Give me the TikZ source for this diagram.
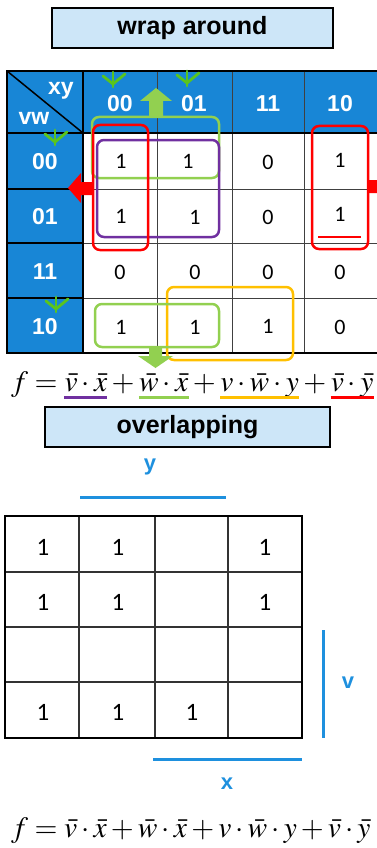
\documentclass[tikz,border=0pt]{standalone}
\usepackage{mathptmx}
\usepackage[no-math]{fontspec}
\setmainfont{Liberation Sans}
\newfontfamily\cellfont{Carlito}
\definecolor{hdrblue}{RGB}{24,134,214}
\definecolor{titlefill}{RGB}{205,230,248}
\definecolor{kgreen}{RGB}{146,208,80}
\definecolor{mgreen}{RGB}{90,196,30}
\definecolor{kpurple}{RGB}{112,48,160}
\definecolor{kyellow}{RGB}{255,192,0}
\definecolor{kred}{RGB}{255,0,0}
\definecolor{lblue}{RGB}{30,144,222}
\begin{document}
\begin{tikzpicture}[x=1pt,y=-1pt,
  titlebox/.style={draw=black, line width=2.5pt, fill=titlefill, font=\bfseries\fontsize{25}{28}\selectfont, inner sep=0pt, minimum height=40pt},
  hdr/.style={text=white, font=\bfseries\fontsize{23}{26}\selectfont, inner sep=0pt},
  cell/.style={font=\cellfont\fontsize{22}{24}\selectfont, inner sep=0pt},
  bcell/.style={font=\cellfont\fontsize{25}{28}\selectfont, inner sep=0pt},
  grp/.style={rounded corners=7pt, line width=2.5pt},
  thin/.style={line width=1pt, black!75},
  thick/.style={line width=2.5pt, black},
  blbl/.style={text=lblue, font=\bfseries\fontsize{22}{24}\selectfont, inner sep=0pt},
  bline/.style={lblue, line width=3pt},
  fm/.style={inner sep=0pt, anchor=base west, font=\fontsize{29.5}{32}\selectfont},
  ulin/.style={line width=2.5pt},
  gchk/.pic={\draw[line width=2.8pt, mgreen, line cap=round, line join=round] (-10,-4) -- (0,4) -- (12,-6);
             \draw[line width=2.8pt, mgreen, line cap=round] (0,-8) -- (0,7);}
]
\useasboundingbox (0,0) rectangle (377,848);

% ---------- title 1
\node[titlebox, minimum width=281pt] (t1) at (192.5,28) {wrap around};

% ---------- top K-map
\fill[hdrblue] (7,71) rectangle (380,133);
\fill[hdrblue] (7,133) rectangle (83,353);
\foreach \x in {157,232,304} \draw[thin] (\x,71) -- (\x,353);
\foreach \y in {189,243,298} \draw[thin] (83,\y) -- (380,\y);
\foreach \y in {189,243,298} \draw[line width=2pt] (7,\y) -- (83,\y);
\draw[line width=2pt] (83,71) -- (83,353);
\draw[line width=2pt] (7,133) -- (380,133);
\draw[thick] (380,71) -- (7,71) -- (7,353) -- (380,353);
\draw[line width=1.5pt] (7,71) -- (83,133);

\node[hdr] (cxy) at (61,91) {xy};
\node[hdr] (cvw) at (34,118) {vw};
\node[hdr] (h00) at (120,104) {00};
\node[hdr] (h01) at (194,104) {01};
\node[hdr] (h11) at (268,104) {11};
\node[hdr] (h10) at (340,104) {10};
\node[hdr] (r00) at (45,162) {00};
\node[hdr] (r01) at (45,217) {01};
\node[hdr] (r11) at (45,272) {11};
\node[hdr] (r10) at (45,327) {10};

\node[cell] (a11) at (121,161) {1};
\node[cell] (a12) at (188,161) {1};
\node[cell] (a13) at (268,162) {0};
\node[cell] (a14) at (340,160) {1};
\node[cell] (a21) at (121,216) {1};
\node[cell] (a22) at (195,217) {1};
\node[cell] (a23) at (268,217) {0};
\node[cell] (a24) at (340,214) {1};
\node[cell] (a31) at (120,272) {0};
\node[cell] (a32) at (195,272) {0};
\node[cell] (a33) at (268,272) {0};
\node[cell] (a34) at (340,272) {0};
\node[cell] (a41) at (121,327) {1};
\node[cell] (a42) at (195,327) {1};
\node[cell] (a43) at (268,326) {1};
\node[cell] (a44) at (340,327) {0};

\draw[kred, line width=1.2pt] (318,237) -- (361,237);

% groups
\draw[grp, kgreen] (92,117) rectangle (219,178);
\draw[grp, kpurple] (97,140) rectangle (219,237);
\draw[grp, kred] (93,125) rectangle (148,250);
\draw[grp, kred] (312,126) rectangle (368,249);
\draw[grp, kyellow] (167,287) rectangle (293,360);
\draw[grp, kgreen] (95,304) rectangle (219,347);

% arrows
\fill[kgreen] (149,117) -- (149,101) -- (140,101) -- (156,88) -- (172,101) -- (163,101) -- (163,117) -- cycle;
\fill[kgreen] (149,347) -- (149,356) -- (138,356) -- (155.5,368) -- (173,356) -- (162,356) -- (162,347) -- cycle;
\fill[kred] (93,182) -- (81,182) -- (81,173) -- (68,188) -- (81,203) -- (81,195) -- (93,195) -- cycle;
\fill[kred] (368,180) -- (385,180) -- (385,170) -- (400,186) -- (385,202) -- (385,193) -- (368,193) -- cycle;

% green marks
\pic at (113,80) {gchk};
\pic at (187,79) {gchk};
\pic at (55,138) {gchk};
\pic at (56,305) {gchk};

% ---------- formula 1
\node[fm] (F0) at (11,391) {$f={}$};
\node[fm] (T1) at (F0.base east) {$\bar v\cdot\bar x$};
\node[fm] (P1) at (T1.base east) {${}+{}$};
\node[fm] (T2) at (P1.base east) {$\bar w\cdot\bar x$};
\node[fm] (P2) at (T2.base east) {${}+{}$};
\node[fm] (T3) at (P2.base east) {$v\cdot\bar w\cdot y$};
\node[fm] (P3) at (T3.base east) {${}+{}$};
\node[fm] (T4) at (P3.base east) {$\bar v\cdot\bar y$};
\draw[ulin, kpurple] ([yshift=-6.5pt]T1.base west) -- ([yshift=-6.5pt]T1.base east);
\draw[ulin, kgreen] ([yshift=-6.5pt]T2.base west) -- ([yshift=-6.5pt]T2.base east);
\draw[ulin, kyellow] ([yshift=-6.5pt]T3.base west) -- ([yshift=-6.5pt]T3.base east);
\draw[ulin, kred] ([yshift=-6.5pt]T4.base west) -- ([yshift=-6.5pt]T4.base east);

% ---------- title 2
\node[titlebox, minimum width=285pt] (t2) at (187.5,427) {overlapping};

% ---------- bottom map
\node[blbl] (ly) at (150,467) {y};
\coordinate (y1) at (80,497);
\coordinate (y2) at (226,497);
\draw[bline] (y1) -- (y2);

\foreach \x in {79,155,228} \draw[line width=1.2pt, black!80] (\x,516) -- (\x,738);
\foreach \y in {572,627,682} \draw[line width=1.2pt, black!80] (5,\y) -- (302,\y);
\draw[thick] (5,516) rectangle (302,738);

\node[bcell] (b11) at (43,547) {1};
\node[bcell] (b12) at (118,547) {1};
\node[bcell] (b14) at (265,547) {1};
\node[bcell] (b21) at (43,602) {1};
\node[bcell] (b22) at (118,602) {1};
\node[bcell] (b24) at (265,602) {1};
\node[bcell] (b41) at (43,712) {1};
\node[bcell] (b42) at (118,712) {1};
\node[bcell] (b43) at (192,712) {1};

\coordinate (v1) at (323,630);
\coordinate (v2) at (323,738);
\draw[bline] (v1) -- (v2);
\node[blbl] (lv) at (348,683) {v};
\coordinate (x1) at (153,759);
\coordinate (x2) at (302,759);
\draw[bline] (x1) -- (x2);
\node[blbl] (lx) at (227,784) {x};

% ---------- formula 2
\node[fm] (G) at (11,837) {$f=\bar v\cdot\bar x+\bar w\cdot\bar x+v\cdot\bar w\cdot y+\bar v\cdot\bar y$};
\end{tikzpicture}
\end{document}
